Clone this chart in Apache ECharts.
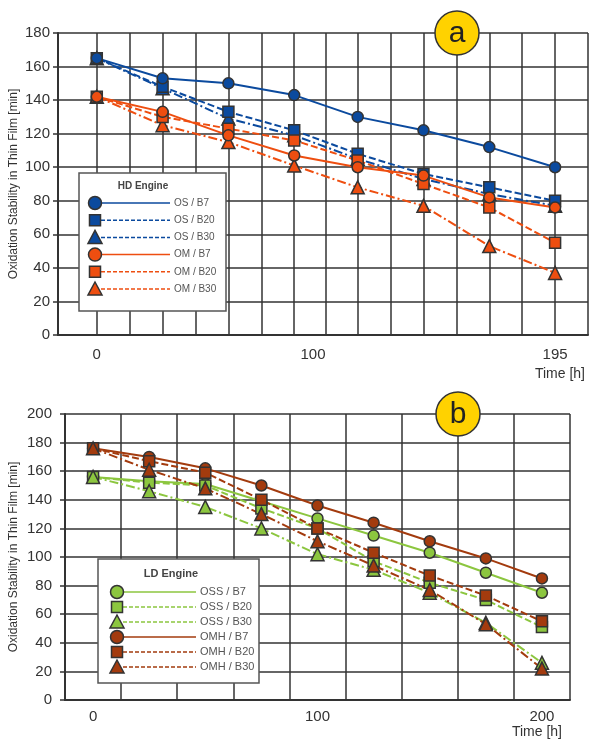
<!DOCTYPE html>
<html>
<head>
<meta charset="utf-8">
<script src="https://cdn.jsdelivr.net/npm/echarts@6/dist/echarts.min.js"></script>
<style>
  html, body { margin: 0; padding: 0; background: #fff; }
  #chart { width: 590px; height: 740px; }
</style>
</head>
<body>
<div id="chart"></div>
<script>
// (a) HD Engine
var hdTimes = [0, 28, 56, 84, 111, 139, 167, 195];
var osB7  = [165, 153, 150, 143, 130, 122, 112, 100];
var osB20 = [165, 148, 133, 122, 108, 96, 88, 80];
var osB30 = [165, 147, 129, 119, 105, 93, 84, 77];
var omB7  = [142, 133, 119, 107, 100, 95, 82, 76];
var omB20 = [142, 130, 123, 116, 104, 90, 76, 55];
var omB30 = [142, 125, 115, 101, 88, 77, 53, 37];
var hdTickPos  = [0, 92, 195];
var hdTickText = ['0', '100', '195'];

// (b) LD Engine
var ldTimes = [0, 25, 50, 75, 100, 125, 150, 175, 200];
var ossB7  = [156, 153, 151, 139, 127, 115, 103, 89, 75];
var ossB20 = [156, 152, 150, 134, 120, 97, 82, 70, 51];
var ossB30 = [156, 146, 135, 120, 102, 91, 75, 54, 26];
var omhB7  = [176, 170, 162, 150, 136, 124, 111, 99, 85];
var omhB20 = [176, 167, 159, 140, 120, 103, 87, 73, 55];
var omhB30 = [176, 161, 148, 130, 111, 94, 77, 53, 22];
var ldTickPos  = [0, 100, 200];
var ldTickText = ['0', '100', '200'];

var BLUE = '#0b4a9e', ORANGE = '#ee4e10', GREEN = '#8cc63f', BROWN = '#a33b0e';
var DASH = [7, 3], DASHDOT = [9, 3, 2, 3];
var FONT = "'Liberation Sans', Arial, sans-serif";
var GRID = '#333';

// gridlines of chart a: through each time and halfway between
var hdGrid = [];
hdTimes.forEach(function (t, i) {
    hdGrid.push(t);
    var next = i < hdTimes.length - 1 ? hdTimes[i + 1] : t + (t - hdTimes[i - 1]);
    hdGrid.push((t + next) / 2);
});

var hdSeries = [
    {name: 'OS / B30', data: osB30, color: BLUE, symbol: 'triangle', dash: DASHDOT},
    {name: 'OS / B20', data: osB20, color: BLUE, symbol: 'rect', dash: DASH},
    {name: 'OS / B7',  data: osB7,  color: BLUE, symbol: 'circle', dash: 'solid'},
    {name: 'OM / B30', data: omB30, color: ORANGE, symbol: 'triangle', dash: DASHDOT},
    {name: 'OM / B20', data: omB20, color: ORANGE, symbol: 'rect', dash: DASH},
    {name: 'OM / B7',  data: omB7,  color: ORANGE, symbol: 'circle', dash: 'solid'}
];
var ldSeries = [
    {name: 'OSS / B7',  data: ossB7,  color: GREEN, symbol: 'circle', dash: 'solid'},
    {name: 'OSS / B20', data: ossB20, color: GREEN, symbol: 'rect', dash: DASH},
    {name: 'OSS / B30', data: ossB30, color: GREEN, symbol: 'triangle', dash: DASHDOT},
    {name: 'OMH / B7',  data: omhB7,  color: BROWN, symbol: 'circle', dash: 'solid'},
    {name: 'OMH / B20', data: omhB20, color: BROWN, symbol: 'rect', dash: DASH},
    {name: 'OMH / B30', data: omhB30, color: BROWN, symbol: 'triangle', dash: DASHDOT}
];
var hdLegendOrder = ['OS / B7', 'OS / B20', 'OS / B30', 'OM / B7', 'OM / B20', 'OM / B30'];
var ldLegendOrder = ['OSS / B7', 'OSS / B20', 'OSS / B30', 'OMH / B7', 'OMH / B20', 'OMH / B30'];

function makeSeries(def, times, idx) {
    return {
        name: def.name,
        type: 'line',
        xAxisIndex: idx,
        yAxisIndex: idx,
        data: times.map(function (t, i) { return [t, def.data[i]]; }),
        symbol: def.symbol,
        symbolSize: def.symbol === 'triangle' ? 13 : 11,
        lineStyle: {color: def.color, width: 2, type: def.dash},
        itemStyle: {color: def.color, borderColor: '#333', borderWidth: 1.5},
        emphasis: {disabled: true},
        animation: false
    };
}

function xAxisOf(idx, min, max, labelPos, labelText, margin, nameGap, namePad) {
    return {
        gridIndex: idx, type: 'value', min: min, max: max,
        axisLine: {show: true, onZero: false, lineStyle: {color: GRID, width: 2}},
        axisTick: {show: false},
        axisLabel: {
            customValues: labelPos, margin: margin, fontSize: 15, color: '#333', fontFamily: FONT,
            formatter: function (v) { var k = labelPos.indexOf(v); return k >= 0 ? labelText[k] : ''; }
        },
        splitLine: {show: true, lineStyle: {color: GRID, width: 1.5}},
        name: 'Time [h]', nameLocation: 'end', nameGap: nameGap, nameMoveOverlap: false,
        nameTextStyle: {fontSize: 14, color: '#333', fontFamily: FONT, align: 'right', verticalAlign: 'top', padding: [namePad, 0, 0, 0]}
    };
}

function yAxisOf(idx, max, margin, nameGap) {
    return {
        gridIndex: idx, type: 'value', min: 0, max: max, interval: 20,
        axisLine: {show: true, onZero: false, lineStyle: {color: GRID, width: 2}},
        axisTick: {show: true, length: 5, lineStyle: {color: GRID, width: 1.5}},
        axisLabel: {margin: margin, fontSize: 15, color: '#333', fontFamily: FONT},
        splitLine: {show: true, lineStyle: {color: GRID, width: 1.5}},
        name: 'Oxidation Stability in Thin Film [min]', nameLocation: 'middle', nameGap: nameGap,
        nameMoveOverlap: false,
        nameTextStyle: {fontSize: 12, color: '#333', fontFamily: FONT}
    };
}

function legendBox(x, y, w, h, title, titleX, titleY, order, defs, rowY, rowGap, mx, lineEnd, tx, fs) {
    var children = [
        {type: 'rect', z: 100, shape: {x: x, y: y, width: w, height: h}, style: {fill: '#fff', stroke: '#555', lineWidth: 1.5}},
        {type: 'text', z: 101, x: x + titleX, y: y + titleY, style: {text: title, font: 'bold ' + fs + 'px ' + FONT, fill: '#444', align: 'center', verticalAlign: 'middle'}}
    ];
    order.forEach(function (name, i) {
        var d = defs.filter(function (s) { return s.name === name; })[0];
        var cy = y + rowY + i * rowGap;
        var cx = x + mx;
        children.push({type: 'line', z: 101, shape: {x1: cx, y1: cy, x2: x + lineEnd, y2: cy},
            style: {stroke: d.color, lineWidth: 1.5, lineDash: d.dash === 'solid' ? null : [4, 2]}});
        var mk;
        if (d.symbol === 'circle') {
            mk = {type: 'circle', shape: {cx: cx, cy: cy, r: 6.5}};
        } else if (d.symbol === 'rect') {
            mk = {type: 'rect', shape: {x: cx - 5.5, y: cy - 5.5, width: 11, height: 11}};
        } else {
            mk = {type: 'polygon', shape: {points: [[cx, cy - 7], [cx + 7, cy + 6], [cx - 7, cy + 6]]}};
        }
        mk.z = 102;
        mk.style = {fill: d.color, stroke: '#333', lineWidth: 1.5};
        children.push(mk);
        children.push({type: 'text', z: 102, x: x + tx, y: cy,
            style: {text: name, font: fs + 'px ' + FONT, fill: '#555', align: 'left', verticalAlign: 'middle'}});
    });
    return children;
}

function badge(cx, cy, letter) {
    return [
        {type: 'circle', z: 110, shape: {cx: cx, cy: cy, r: 22}, style: {fill: '#ffd200', stroke: '#333', lineWidth: 1.5}},
        {type: 'text', z: 111, x: cx, y: cy + 1, style: {text: letter, font: '30px ' + FONT, fill: '#222', align: 'center', verticalAlign: 'middle'}}
    ];
}

var chart = echarts.init(document.getElementById('chart'), null, {renderer: 'canvas'});
var hdX = xAxisOf(0, -16.5, hdGrid[hdGrid.length - 1], hdTickPos, hdTickText, 12, -3, 32);
hdX.axisTick.customValues = hdGrid;   // splitLines follow these
var ldX = xAxisOf(1, -12.5, 212.5, ldTickPos, ldTickText, 9, -8, 25);
ldX.interval = 25;                    // gridlines halfway between samples

var option = {
    backgroundColor: '#fff',
    animation: false,
    grid: [
        {left: 58, right: 2, top: 33, height: 302, outerBoundsMode: 'none', containLabel: false},
        {left: 65, right: 20, top: 414, height: 286, outerBoundsMode: 'none', containLabel: false}
    ],
    xAxis: [hdX, ldX],
    yAxis: [
        yAxisOf(0, 180, 8, 38),
        yAxisOf(1, 200, 13, 45)
    ],
    series: hdSeries.map(function (d) { return makeSeries(d, hdTimes, 0); })
        .concat(ldSeries.map(function (d) { return makeSeries(d, ldTimes, 1); })),
    graphic: [].concat(
        legendBox(79, 173, 147, 138, 'HD Engine', 64, 13, hdLegendOrder, hdSeries, 30, 17.2, 16, 91, 95, 10),
        legendBox(98, 559, 161, 124, 'LD Engine', 73, 15, ldLegendOrder, ldSeries, 33, 15, 19, 98, 102, 11),
        badge(457, 33, 'a'),
        badge(458, 414, 'b')
    )
};
chart.setOption(option);
</script>
</body>
</html>
